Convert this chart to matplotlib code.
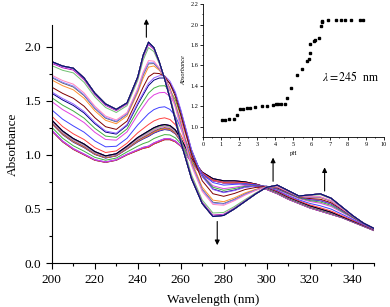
import numpy as np
import matplotlib.pyplot as plt

plt.rcParams['font.family'] = ['Liberation Serif', 'DejaVu Serif']
plt.rcParams['mathtext.fontset'] = 'stix'

# wavelength grid (nm) of the reference spectra
wl = [200, 205, 210, 215, 220, 225, 230, 235, 240, 242.5, 245, 247.5, 250, 252.5,
      255, 257.5, 260, 265, 270, 275, 280, 285, 290, 295, 300, 305, 310, 315,
      320, 325, 330, 335, 340, 345, 350]

# spectra: lowest pH, plateau (pH 2-4.5), intermediate, highest pH
spec_low = [1.22, 1.12, 1.05, 1.00, 0.95, 0.93, 0.95, 1.00, 1.04, 1.06, 1.07, 1.10,
            1.12, 1.14, 1.14, 1.12, 1.08, 0.93, 0.81, 0.76, 0.74, 0.74, 0.73, 0.71,
            0.68, 0.64, 0.59, 0.55, 0.51, 0.48, 0.45, 0.42, 0.38, 0.34, 0.30]
spec_mid = [1.32, 1.22, 1.15, 1.10, 1.03, 0.99, 1.01, 1.08, 1.16, 1.19, 1.22, 1.25,
            1.27, 1.28, 1.27, 1.23, 1.15, 0.97, 0.84, 0.78, 0.76, 0.76, 0.75, 0.73,
            0.70, 0.66, 0.61, 0.57, 0.53, 0.50, 0.47, 0.43, 0.39, 0.35, 0.31]
spec_shift = [1.58, 1.52, 1.47, 1.40, 1.30, 1.22, 1.20, 1.28, 1.48, 1.57, 1.66, 1.71,
              1.73, 1.73, 1.68, 1.58, 1.42, 1.05, 0.80, 0.68, 0.65, 0.67, 0.70, 0.71,
              0.71, 0.69, 0.65, 0.61, 0.59, 0.58, 0.55, 0.49, 0.43, 0.37, 0.32]
spec_high = [1.86, 1.82, 1.80, 1.71, 1.57, 1.47, 1.42, 1.48, 1.72, 1.92, 2.04, 1.99,
             1.86, 1.70, 1.52, 1.32, 1.12, 0.78, 0.55, 0.43, 0.44, 0.50, 0.57, 0.64,
             0.70, 0.72, 0.67, 0.62, 0.63, 0.64, 0.60, 0.52, 0.44, 0.37, 0.32]

# inset: absorbance at 245 nm vs pH
ph = [1.05, 1.19, 1.45, 1.69, 1.87, 2.02, 2.20, 2.42, 2.62, 2.90, 3.25, 3.56, 3.85,
      4.04, 4.13, 4.29, 4.51, 4.62, 4.86, 5.17, 5.49, 5.76, 5.85, 5.91, 5.94, 6.13,
      6.20, 6.39, 6.53, 6.57, 6.59, 6.92, 7.34, 7.60, 7.83, 8.17, 8.66, 8.84]
a245 = [1.07, 1.07, 1.08, 1.08, 1.12, 1.17, 1.175, 1.18, 1.18, 1.19, 1.20, 1.20, 1.21,
        1.22, 1.22, 1.22, 1.22, 1.28, 1.38, 1.51, 1.57, 1.64, 1.66, 1.72, 1.81, 1.84,
        1.85, 1.87, 1.99, 2.02, 2.03, 2.04, 2.04, 2.04, 2.04, 2.04, 2.04, 2.04]

colors = ['#000000', '#FF4040', '#4040FF', '#E040E0', '#40B040', '#000080', '#9060FF',
          '#800000', '#FF9030', '#606060', '#8080FF', '#FF80C0', '#70C070', '#B000B0',
          '#C080FF', '#3030C0']

specs = np.array([spec_low, spec_mid, spec_shift, spec_high])
knots = specs[:, 10]  # value at 245 nm of each reference spectrum

fig = plt.figure(figsize=(3.9, 3.07), dpi=100)
ax = fig.add_axes([0.133, 0.143, 0.826, 0.776])

for i, v in enumerate(a245):
    k = min(np.searchsorted(knots, v, side='right') - 1, len(knots) - 2)
    k = max(k, 0)
    f = (v - knots[k]) / (knots[k + 1] - knots[k])
    curve = (1 - f) * specs[k] + f * specs[k + 1]
    ax.plot(wl, curve, color=colors[i % len(colors)], lw=0.7)

ax.set_xlim(200, 350)
ax.set_ylim(0, 2.2)
ax.set_xticks([200, 220, 240, 260, 280, 300, 320, 340])
ax.set_xticks(np.arange(210, 351, 20), minor=True)
ax.set_yticks([0.0, 0.5, 1.0, 1.5, 2.0])
ax.set_yticks([0.25, 0.75, 1.25, 1.75], minor=True)
ax.spines['top'].set_visible(False)
ax.spines['right'].set_visible(False)
ax.tick_params(which='major', direction='out', length=4, width=0.8, labelsize=9.5)
ax.tick_params(which='minor', direction='out', length=2, width=0.8)
ax.set_xlabel('Wavelength (nm)', fontsize=9.5, labelpad=6)
ax.set_ylabel('Absorbance', fontsize=9.5, labelpad=4)

arr = dict(arrowstyle='-|>', color='k', lw=0.8, mutation_scale=7)
ax.annotate('', xy=(244, 2.28), xytext=(244, 2.06), arrowprops=arr, annotation_clip=False)
ax.annotate('', xy=(277, 0.14), xytext=(277, 0.41), arrowprops=arr)
ax.annotate('', xy=(303, 1.0), xytext=(303, 0.73), arrowprops=arr)
ax.annotate('', xy=(327, 0.91), xytext=(327, 0.64), arrowprops=arr)

ins = fig.add_axes([0.5205, 0.5537, 0.464, 0.433])
ins.plot(ph, a245, 's', color='k', ms=2.0)
ins.set_xlim(0, 10)
ins.set_ylim(0.9, 2.2)
ins.set_xticks(range(0, 11))
ins.set_xticks(np.arange(0.5, 10, 1), minor=True)
ins.set_yticks(np.arange(1.0, 2.21, 0.2))
ins.set_yticks(np.arange(0.9, 2.2, 0.2), minor=True)
ins.set_yticklabels(['%.1f' % t for t in np.arange(1.0, 2.21, 0.2)])
ins.spines['top'].set_visible(False)
ins.spines['right'].set_visible(False)
ins.patch.set_alpha(0)
ins.tick_params(which='major', direction='out', length=2, width=0.6, labelsize=4.5, pad=1.5)
ins.tick_params(which='minor', direction='out', length=1, width=0.6)
for s in ['left', 'bottom']:
    ins.spines[s].set_linewidth(0.6)
ins.set_xlabel('pH', fontsize=4.5, labelpad=3)
ins.set_ylabel('Absorbance', fontsize=4.5, style='italic', labelpad=3)
ins.text(6.55, 1.45, r'$\lambda = 245$  nm', fontsize=8.5)

fig.savefig('out.png', dpi=100)
